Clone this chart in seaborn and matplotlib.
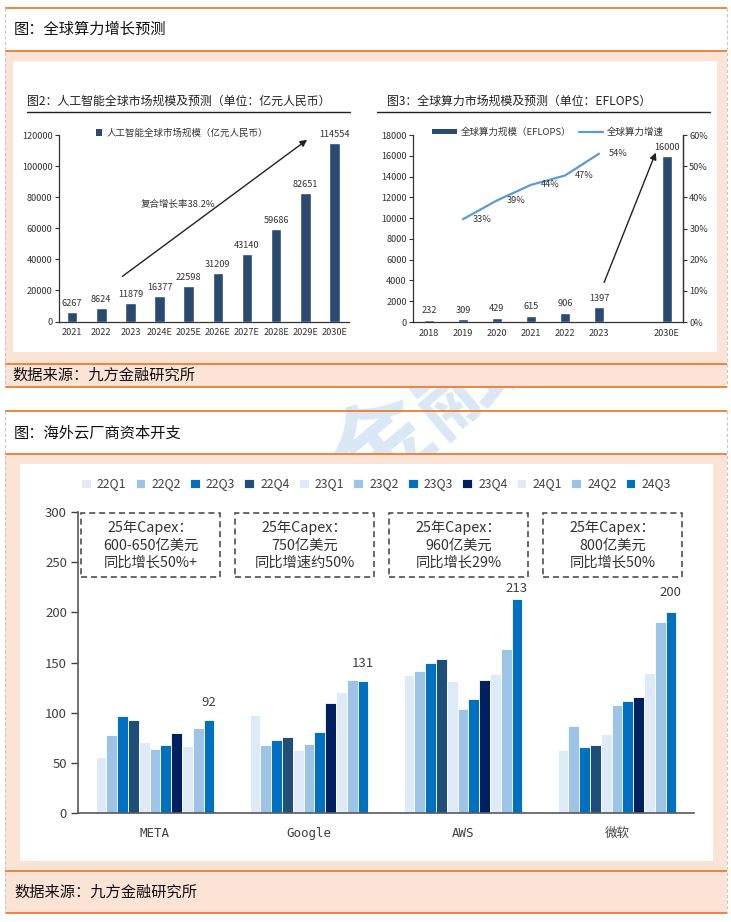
import numpy as np
import pandas as pd
import matplotlib
matplotlib.use("Agg")
import matplotlib.pyplot as plt
import seaborn as sns
from matplotlib.patches import Rectangle, Patch
from matplotlib.lines import Line2D
from matplotlib.ticker import PercentFormatter

sns.set_theme(style="white")
plt.rcParams['font.family'] = ['Noto Sans CJK SC', 'DejaVu Sans']
plt.rcParams['axes.unicode_minus'] = False

# ---------------- data ----------------
ai_years = ['2021', '2022', '2023', '2024E', '2025E', '2026E', '2027E', '2028E', '2029E', '2030E']
ai_market = [6267, 8624, 11879, 16377, 22598, 31209, 43140, 59686, 82651, 114554]

cp_years = ['2018', '2019', '2020', '2021', '2022', '2023', '2030E']
cp_scale = [232, 309, 429, 615, 906, 1397, 16000]
gr_years = ['2019', '2020', '2021', '2022', '2023']
gr_rate = [0.33, 0.39, 0.44, 0.47, 0.54]

companies = ['META', 'Google', 'AWS', '微软']
quarters = ['22Q1', '22Q2', '22Q3', '22Q4', '23Q1', '23Q2', '23Q3', '23Q4', '24Q1', '24Q2', '24Q3']
capex_meta = [55.6, 77.8, 96.4, 92.4, 70.5, 63.6, 67.9, 79.5, 66.9, 84.8, 92.4]
capex_google = [97.7, 67.9, 73.2, 75.8, 62.6, 68.9, 81.1, 109.9, 120.5, 132.1, 131.1]
capex_aws = [137.1, 141.4, 150.0, 153.6, 131.1, 103.6, 113.2, 132.8, 138.4, 163.9, 212.9]
capex_msft = [62.6, 87.1, 66.2, 67.9, 78.5, 107.3, 111.9, 115.2, 139.4, 190.4, 200.0]
quarter_colors = ['#deebf7', '#9dc3e6', '#0070c0', '#1f4e79', '#deebf7', '#9dc3e6',
                  '#0070c0', '#002060', '#deebf7', '#9dc3e6', '#0070c0']
guidance = ['25年Capex：\n600-650亿美元\n同比增长50%+',
            '25年Capex：\n750亿美元\n同比增速约50%',
            '25年Capex：\n960亿美元\n同比增长29%',
            '25年Capex：\n800亿美元\n同比增长50%']

# ---------------- layout helpers ----------------
W, H = 731, 922
fig = plt.figure(figsize=(W / 100, H / 100), dpi=100)
fig.patch.set_facecolor('white')


def frac(x0, y0, x1, y1):
    return [x0 / W, 1 - y1 / H, (x1 - x0) / W, (y1 - y0) / H]


bg = fig.add_axes([0, 0, 1, 1], zorder=-10)
bg.set_xlim(0, W)
bg.set_ylim(H, 0)
bg.axis('off')

ORANGE = '#ed7d31'
PINK = '#fbe3d6'
TXT = '#333333'

# watermark (under panels)
bg.text(345, 480, '九方金融', rotation=40, fontsize=72, color='#dae8f5',
        ha='center', va='center', fontweight='bold', zorder=0)

# pink bands and white panels
bg.add_patch(Rectangle((5, 51), 722, 336, facecolor=PINK, edgecolor='none', zorder=1))
bg.add_patch(Rectangle((13, 61), 704, 291, facecolor='white', edgecolor='none', zorder=2))
bg.add_patch(Rectangle((5, 454), 722, 459, facecolor=PINK, edgecolor='none', zorder=1))
bg.add_patch(Rectangle((20, 464), 693, 397, facecolor='white', edgecolor='none', zorder=2))

for y in [8, 51, 364, 387, 411, 454, 871, 913]:
    bg.plot([5, 727], [y, y], color=ORANGE, lw=1.3, zorder=3, solid_capstyle='butt')
for x in [5, 727]:
    for (y0, y1) in [(8, 387), (411, 913)]:
        bg.plot([x, x], [y0, y1], color='#c8c8c8', lw=0.8, ls=(0, (3, 2)), zorder=3)

bg.text(14, 29, '图：全球算力增长预测', fontsize=11, color='#111111', va='center', ha='left', zorder=4)
bg.text(12, 375, '数据来源：九方金融研究所', fontsize=11, color='#111111', va='center', ha='left', zorder=4)
bg.text(14, 433, '图：海外云厂商资本开支', fontsize=11, color='#111111', va='center', ha='left', zorder=4)
bg.text(14, 892, '数据来源：九方金融研究所', fontsize=11, color='#111111', va='center', ha='left', zorder=4)

bg.text(27, 101, '图2：人工智能全球市场规模及预测（单位：亿元人民币）', fontsize=8.6,
        color='#222222', va='center', ha='left', zorder=4)
bg.plot([27, 350], [112, 112], color='#222222', lw=1.0, zorder=4)
bg.text(387, 101, '图3：全球算力市场规模及预测（单位：EFLOPS）', fontsize=8.6,
        color='#222222', va='center', ha='left', zorder=4)
bg.plot([377, 710], [112, 112], color='#222222', lw=1.0, zorder=4)

NAVY = '#2b4a6f'
SMALL = 6.6

# ---------------- chart 2: AI market ----------------
ax1 = fig.add_axes(frac(58.7, 135, 349, 321.5))
df_ai = pd.DataFrame({'year': ai_years, 'value': ai_market})
sns.barplot(data=df_ai, x='year', y='value', color=NAVY, saturation=1, width=0.36, ax=ax1)
ax1.set_ylim(0, 120000)
ax1.set_xlim(-0.46, 9.5)
ax1.set_yticks(np.arange(0, 120001, 20000))
ax1.set_xlabel('')
ax1.set_ylabel('')
ax1.tick_params(axis='y', labelsize=SMALL, colors=TXT, length=3, width=0.8, direction='out', pad=1.5, left=True)
ax1.tick_params(axis='x', labelsize=SMALL, colors=TXT, length=0, pad=5)
for s in ['top', 'right']:
    ax1.spines[s].set_visible(False)
for s in ['left', 'bottom']:
    ax1.spines[s].set_color('#333333')
    ax1.spines[s].set_linewidth(0.9)
ax1.bar_label(ax1.containers[0], fmt='%d', padding=3, fontsize=SMALL, color=TXT)
ax1.annotate('', xy=(8.14, 118000), xytext=(1.65, 28000),
             arrowprops=dict(arrowstyle='-|>', color='#222222', lw=1.0, mutation_scale=10))
ax1.text(3.64, 75600, '复合增长率38.2%', fontsize=6.8, color=TXT, ha='center', va='center')
ax1.legend(handles=[Patch(facecolor=NAVY, edgecolor='none')], labels=['人工智能全球市场规模（亿元人民币）'],
           loc='center left', bbox_to_anchor=(96 / W, 1 - 133 / H), bbox_transform=fig.transFigure,
           frameon=False, fontsize=6.8, handlelength=0.65, handleheight=0.65, handletextpad=0.5,
           borderpad=0, borderaxespad=0, labelcolor=TXT)

# ---------------- chart 3: compute ----------------
ax3 = fig.add_axes(frac(413, 135, 683, 322))
order3 = cp_years[:6] + [' '] + cp_years[6:]
df_cp = pd.DataFrame({'year': cp_years, 'value': cp_scale})
sns.barplot(data=df_cp, x='year', y='value', order=order3, color=NAVY, saturation=1, width=0.29, ax=ax3)
ax3.set_ylim(0, 18000)
ax3.set_xlim(-0.47, 7.47)
ax3.set_yticks(np.arange(0, 18001, 2000))
ax3.set_xlabel('')
ax3.set_ylabel('')
ax3.tick_params(axis='y', labelsize=SMALL, colors=TXT, length=3, width=0.8, direction='out', pad=1.5, left=True)
ax3.tick_params(axis='x', labelsize=SMALL, colors=TXT, length=0, pad=5)
ax3.spines['top'].set_visible(False)
for s in ['left', 'bottom', 'right']:
    ax3.spines[s].set_color('#333333')
    ax3.spines[s].set_linewidth(0.9)
ax3.bar_label(ax3.containers[0], fmt='%d', padding=3, fontsize=SMALL, color=TXT)

ax3b = ax3.twinx()
gx = [order3.index(y) for y in gr_years]
sns.lineplot(x=gx, y=gr_rate, ax=ax3b, color='#5b9bd5', lw=1.6)
ax3b.set_ylim(0, 0.6)
ax3b.set_yticks(np.arange(0, 0.61, 0.1))
ax3b.yaxis.set_major_formatter(PercentFormatter(1.0, decimals=0))
ax3b.tick_params(axis='y', labelsize=SMALL, colors=TXT, length=3, width=0.8, direction='out', pad=1.5, right=True)
ax3b.set_ylabel('')
for s in ['top', 'left', 'bottom']:
    ax3b.spines[s].set_visible(False)
ax3b.spines['right'].set_color('#333333')
ax3b.spines['right'].set_linewidth(0.9)
for x, r in zip(gx, gr_rate):
    ax3b.text(x + 0.56, r, f'{round(r * 100)}%', fontsize=SMALL, color=TXT, ha='center', va='center')
ax3b.annotate('', xy=(6.7, 16554 / 30000), xytext=(5.12, 3561 / 30000),
              arrowprops=dict(arrowstyle='-|>', color='#222222', lw=1.0, mutation_scale=10))
ax3b.legend(handles=[Patch(facecolor=NAVY, edgecolor='none'), Line2D([], [], color='#5b9bd5', lw=1.6)],
            labels=['全球算力规模（EFLOPS）', '全球算力增速'], ncol=2,
            loc='center left', bbox_to_anchor=(432 / W, 1 - 132 / H), bbox_transform=fig.transFigure,
            frameon=False, fontsize=6.8, handlelength=2.6, handleheight=0.55, handletextpad=0.4,
            columnspacing=0.8, borderpad=0, borderaxespad=0, labelcolor=TXT)

# ---------------- chart: cloud capex ----------------
axc = fig.add_axes(frac(78, 512, 694, 813))
rows = []
for comp, vals in zip(companies, [capex_meta, capex_google, capex_aws, capex_msft]):
    for q, v in zip(quarters, vals):
        rows.append({'company': comp, 'quarter': q, 'value': v})
df_c = pd.DataFrame(rows)
sns.barplot(data=df_c, x='company', y='value', hue='quarter', order=companies, hue_order=quarters,
            palette=quarter_colors, saturation=1, width=0.77, edgecolor='white', linewidth=0.6, ax=axc)
axc.set_ylim(0, 300)
axc.set_xlim(-0.5, 3.5)
axc.set_yticks(np.arange(0, 301, 50))
axc.set_xlabel('')
axc.set_ylabel('')
axc.tick_params(axis='y', labelsize=9.5, colors='#404040', length=5, width=1.0, direction='out', pad=3, left=True)
axc.tick_params(axis='x', labelsize=9, colors='#404040', length=0, pad=10)
for lab in axc.get_xticklabels():
    lab.set_fontfamily(['DejaVu Sans Mono', 'Noto Sans CJK SC'])
for s in ['top', 'right']:
    axc.spines[s].set_visible(False)
for s in ['left', 'bottom']:
    axc.spines[s].set_color('#595959')
    axc.spines[s].set_linewidth(1.2)

last = axc.containers[-1]
for rect, off in zip(last, [13, 13, 8, 14]):
    cx = rect.get_x() + rect.get_width() / 2
    h = rect.get_height()
    axc.annotate(f'{round(h)}', xy=(cx, h), xytext=(0, off), textcoords='offset points',
                 ha='center', va='center', fontsize=9.5, color='#404040')

for i, txt in enumerate(guidance):
    axc.add_patch(Rectangle((i - 0.48, 235.5), 0.9, 64, fill=False, edgecolor='#404040',
                            lw=1.1, ls=(0, (4, 2.5)), clip_on=False))
    axc.text(i - 0.03, 267, txt, ha='center', va='center', fontsize=10.3, color='#333333',
             linespacing=1.3)

handles, labels = axc.get_legend_handles_labels()
axc.legend(handles=handles, labels=labels, ncol=11, loc='center left',
           bbox_to_anchor=(81 / W, 1 - 484 / H), bbox_transform=fig.transFigure,
           frameon=False, fontsize=8.8, handlelength=0.8, handleheight=0.8, handletextpad=0.5,
           columnspacing=0.75, borderpad=0, borderaxespad=0, labelcolor='#404040')

fig.savefig('out.png', dpi=100, facecolor='white')
